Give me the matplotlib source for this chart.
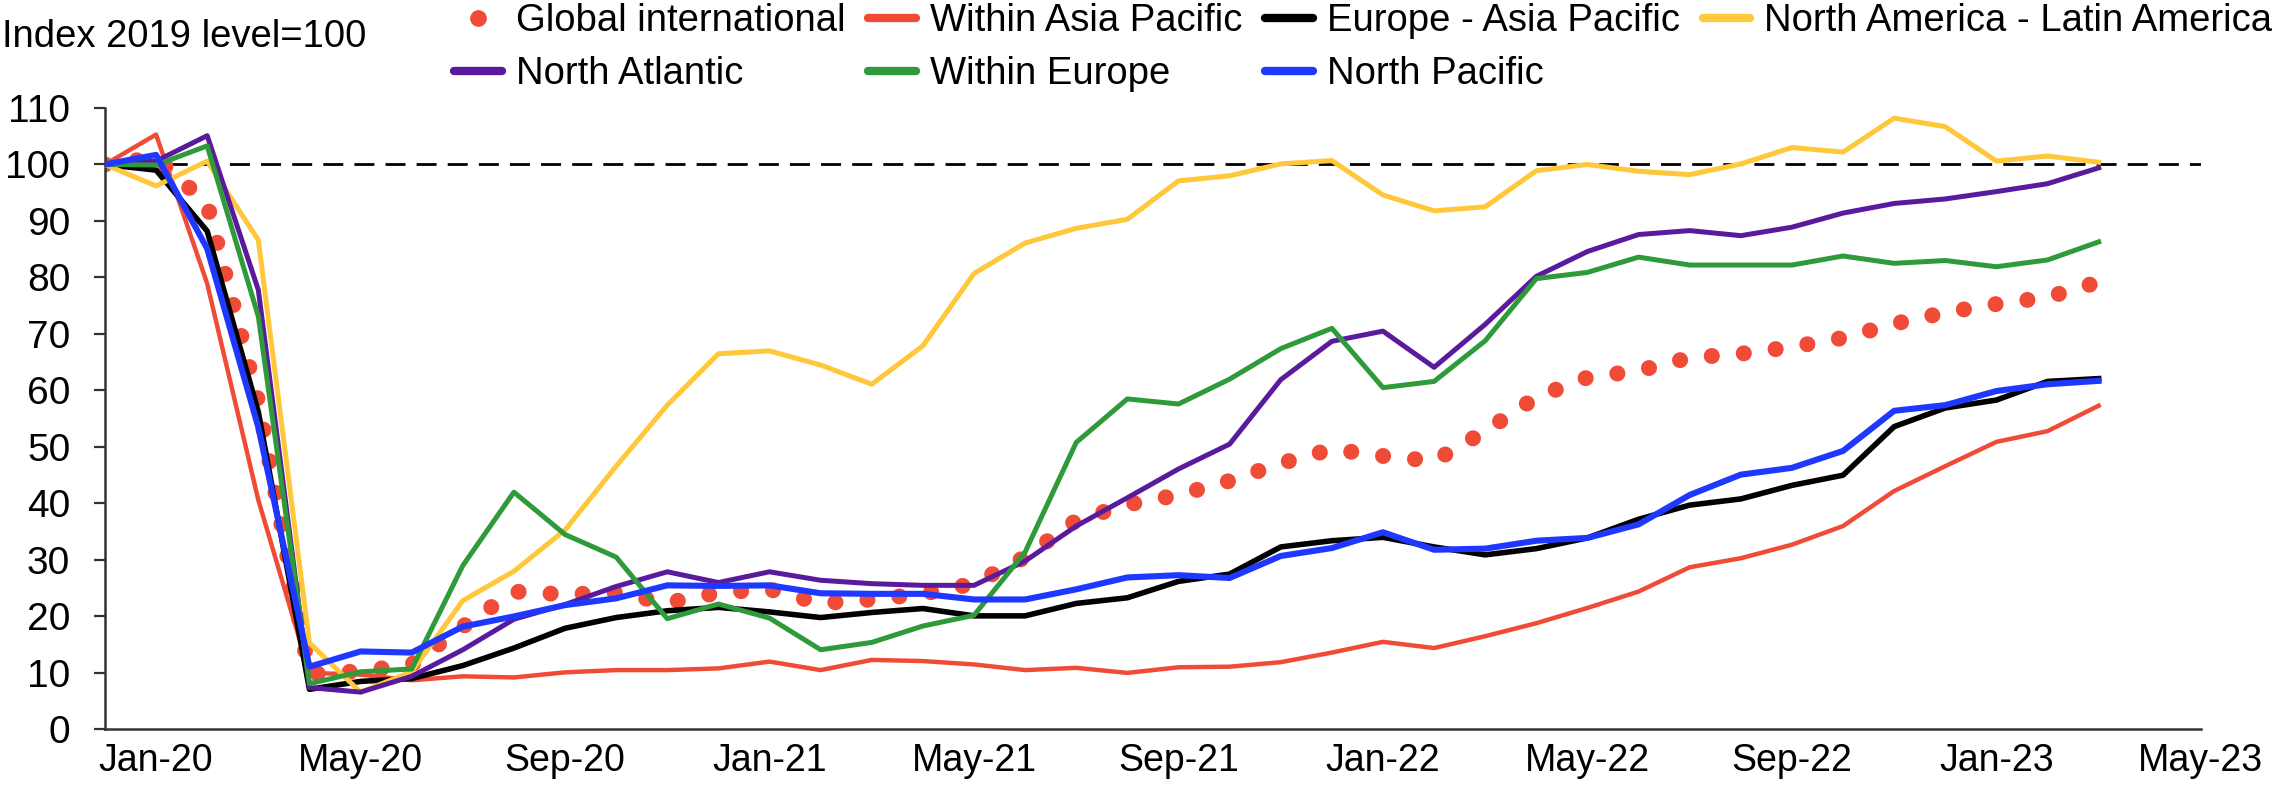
import matplotlib.pyplot as plt
from matplotlib.lines import Line2D
import numpy as np

plt.rcParams['font.family'] = ['Liberation Sans', 'DejaVu Sans']

# monthly index values, 2019 level = 100
global_intl = [100, 101.2, 93, 58, 9.8, 10.3, 11.5, 18.2, 24.4, 23.9,
               24.2, 22.4, 24.2, 24.8, 22.3, 23.0, 24.0, 25.8, 30.5, 37.0,
               39.8, 41.5, 44.0, 47.1, 49.6, 48.4, 47.5, 52.8, 58.8, 62.3,
               63.5, 65.8, 66.5, 67.7, 69.3, 71.8, 73.8, 75.3, 76.5, 79.2]
within_asia = [100, 105.3, 78.9, 40.6, 10.0, 9.7, 8.7, 9.4, 9.2, 10.1,
               10.5, 10.5, 10.8, 12.0, 10.5, 12.3, 12.1, 11.5, 10.5, 10.9,
               10.0, 11.0, 11.1, 11.9, 13.6, 15.5, 14.4, 16.5, 18.8, 21.5,
               24.4, 28.7, 30.3, 32.7, 36.0, 42.2, 46.6, 50.9, 52.8, 57.3]
europe_asia = [100, 99.0, 88.2, 56.2, 7.1, 8.5, 9.0, 11.3, 14.4, 17.9,
               19.8, 21.0, 21.6, 20.8, 19.8, 20.7, 21.4, 20.1, 20.1, 22.3,
               23.3, 26.2, 27.5, 32.3, 33.4, 34.0, 32.3, 30.9, 32.0, 33.9,
               37.2, 39.7, 40.8, 43.2, 45.0, 53.6, 56.9, 58.3, 61.6, 62.1]
na_latam = [100, 96.2, 100.6, 86.6, 15.3, 6.6, 10.2, 22.8, 28.0, 35.3,
            46.6, 57.4, 66.5, 67.0, 64.5, 61.1, 67.9, 80.7, 86.1, 88.7,
            90.3, 97.1, 98.0, 100.1, 100.7, 94.6, 91.8, 92.5, 98.9, 100.0,
            98.8, 98.2, 100.1, 103.0, 102.2, 108.2, 106.7, 100.6, 101.5, 100.4]
north_atlantic = [100, 100.6, 105.1, 77.8, 7.4, 6.6, 9.4, 14.1, 19.5, 22.1,
                  25.3, 27.9, 26.0, 27.9, 26.4, 25.8, 25.5, 25.5, 29.8, 36.0,
                  41.0, 46.1, 50.5, 61.9, 68.7, 70.5, 64.1, 71.7, 80.2, 84.6,
                  87.6, 88.3, 87.4, 88.9, 91.4, 93.1, 93.9, 95.2, 96.6, 99.4]
within_europe = [100, 99.9, 103.3, 73.1, 8.1, 10.2, 10.7, 29.0, 42.0, 34.5,
                 30.5, 19.6, 22.2, 19.7, 14.1, 15.4, 18.3, 20.2, 31.4, 50.8,
                 58.5, 57.6, 62.0, 67.4, 71.0, 60.5, 61.6, 68.8, 79.8, 80.9,
                 83.6, 82.2, 82.2, 82.2, 83.8, 82.5, 83.0, 81.9, 83.1, 86.3]
north_pacific = [100, 101.7, 85.1, 53.5, 11.1, 13.8, 13.6, 18.2, 20.0, 22.0,
                 23.2, 25.5, 25.4, 25.5, 24.1, 24.0, 24.0, 23.0, 23.0, 24.8,
                 26.9, 27.3, 26.8, 30.7, 32.1, 34.9, 31.8, 32.0, 33.4, 33.9,
                 36.3, 41.5, 45.1, 46.3, 49.3, 56.4, 57.4, 59.9, 61.1, 61.7]

tick_labels = ['Jan-20', 'May-20', 'Sep-20', 'Jan-21', 'May-21', 'Sep-21',
               'Jan-22', 'May-22', 'Sep-22', 'Jan-23', 'May-23']

RED = '#F04B37'
PURPLE = '#5A1A9E'
GREEN = '#2E9A3A'
BLUE = '#1F38FF'
YELLOW = '#FFC83A'

x = np.arange(len(global_intl))

fig = plt.figure(figsize=(22.72, 7.86), dpi=100)
ax = fig.add_axes([0.0462, 0.072, 0.9225, 0.7906])

ax.axhline(100, color='black', lw=2.0, dashes=(7.2, 4.0), zorder=1)

# drawn in the original series order so the blue line ends up on top
ax.plot(x, global_intl, color=RED, lw=11.5, dashes=(0.01, 2.0),
        dash_capstyle='round', zorder=2)
ax.plot(x, within_asia, color=RED, lw=3.2, zorder=3)
ax.plot(x, europe_asia, color='black', lw=4.0, zorder=3)
ax.plot(x, na_latam, color=YELLOW, lw=3.6, zorder=3)
ax.plot(x, north_atlantic, color=PURPLE, lw=3.6, zorder=3)
ax.plot(x, within_europe, color=GREEN, lw=3.6, zorder=3)
ax.plot(x, north_pacific, color=BLUE, lw=4.4, zorder=3)

ax.set_xlim(0, 41)
ax.set_ylim(0, 110)
ax.set_yticks(np.arange(0, 111, 10))
ax.set_xticks(np.arange(1, 42, 4))
ax.set_xticklabels(tick_labels)

for s in ['top', 'right']:
    ax.spines[s].set_visible(False)
for s in ['left', 'bottom']:
    ax.spines[s].set_linewidth(1.8)
    ax.spines[s].set_color('#333333')

ax.tick_params(axis='y', length=8, width=1.6, color='#333333', pad=17, labelsize=28)
ax.tick_params(axis='x', length=0, pad=10, labelsize=27)

fig.text(0.001, 0.953, 'Index 2019 level=100', fontsize=27.5, va='center', ha='left')

def lh(c):
    return Line2D([], [], color=c, lw=6, solid_capstyle='round')

handles = [
    Line2D([], [], color=RED, marker='o', markersize=11, lw=0),
    lh(PURPLE), lh(RED), lh(GREEN), lh('black'), lh(BLUE), lh(YELLOW),
]
labels = ['Global international', 'North Atlantic', 'Within Asia Pacific',
          'Within Europe', 'Europe - Asia Pacific', 'North Pacific',
          'North America - Latin America']
fig.legend(handles, labels, ncol=4, loc='upper left',
           bbox_to_anchor=(0.2, 0.996), frameon=False, fontsize=27.5,
           handlelength=1.25, handletextpad=0.36, columnspacing=0.6,
           labelspacing=0.45, borderpad=0.0, borderaxespad=0.0)

plt.savefig('out.png', dpi=100)
